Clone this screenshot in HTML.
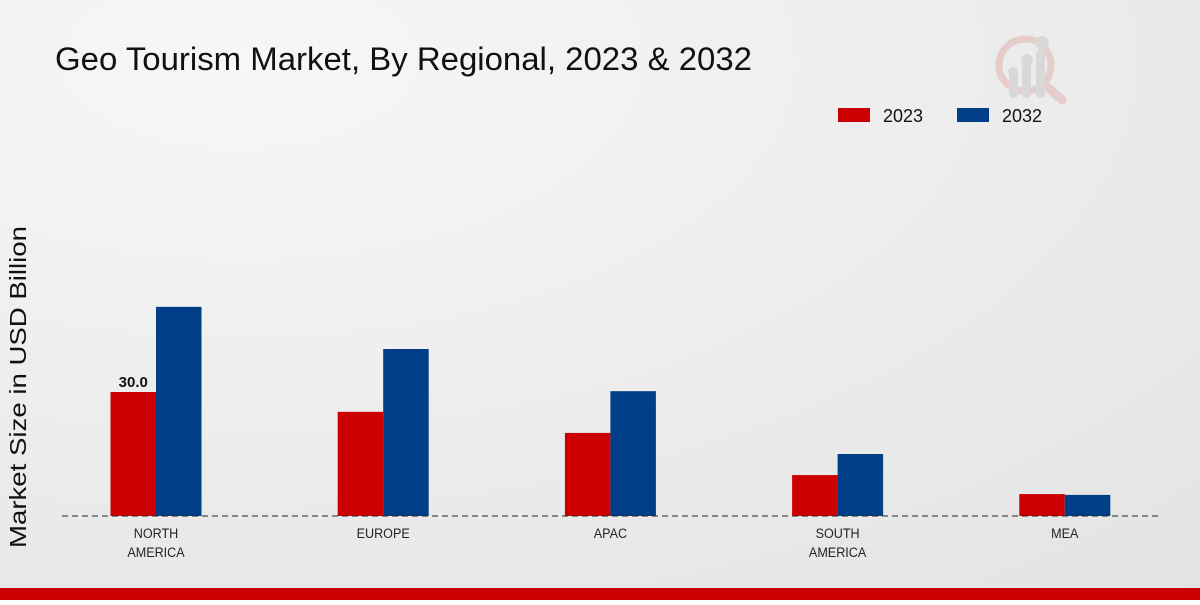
<!DOCTYPE html>
<html><head><meta charset="utf-8"><style>
body{margin:0;width:1200px;height:600px;overflow:hidden;font-family:"Liberation Sans","DejaVu Sans",sans-serif}
</style></head><body>
<svg width="1200" height="600" xmlns="http://www.w3.org/2000/svg">
<defs><radialGradient id="bg" cx="0.2" cy="0.1" r="1.2"><stop offset="0" stop-color="#f7f7f7"/><stop offset="1" stop-color="#e3e3e3"/></radialGradient></defs>
<rect width="1200" height="600" fill="url(#bg)"/>
<rect y="588" width="1200" height="12" fill="#cc0000"/>
<text x="55" y="70" font-size="32" textLength="697" lengthAdjust="spacingAndGlyphs" fill="#111">Geo Tourism Market, By Regional, 2023 &amp; 2032</text>
<g opacity="0.6">
<circle cx="1025" cy="65" r="26" fill="none" stroke="#e4b8b8" stroke-width="7"/>
<line x1="1045" y1="85" x2="1062" y2="100" stroke="#e4b8b8" stroke-width="9" stroke-linecap="round"/>
<rect x="1009" y="70" width="9" height="28" rx="4" fill="#ccc"/><rect x="1022" y="60" width="9" height="38" rx="4" fill="#ccc"/><rect x="1036" y="50" width="9" height="48" rx="4" fill="#ccc"/>
<circle cx="1013" cy="72" r="5" fill="#ccc"/><circle cx="1027" cy="60" r="6" fill="#ccc"/><circle cx="1042" cy="43" r="7" fill="#ccc"/>
</g>
<g>
<rect x="838" y="108" width="32" height="14" fill="#cc0000"/>
<text x="883" y="122" font-size="18" textLength="40" lengthAdjust="spacingAndGlyphs" fill="#111">2023</text>
<rect x="957" y="108" width="32" height="14" fill="#003f87"/>
<text x="1002" y="122" font-size="18" textLength="40" lengthAdjust="spacingAndGlyphs" fill="#111">2032</text>
</g>
<text transform="translate(26,387) rotate(-90)" text-anchor="middle" font-size="23" textLength="322" lengthAdjust="spacingAndGlyphs" fill="#111">Market Size in USD Billion</text>
<g id="plot"></g>
<line x1="62" y1="516" x2="1160" y2="516" stroke="#222" stroke-dasharray="6,4" stroke-width="1"/>
</svg>
<script>
const categories=["NORTH\nAMERICA","EUROPE","APAC","SOUTH\nAMERICA","MEA"];
const values2023=[30.0,25.2,20.1,9.9,5.3];
const values2032=[50.6,40.4,30.2,15.0,5.1];
const labelIndex=0;
const NS="http://www.w3.org/2000/svg";
const g=document.getElementById('plot');
const base=516, scale=124/30;
const y=v=>base-v*scale;
const xc=i=>156+i*227.2;
const bw=45.5;
function mk(t,a){const e=document.createElementNS(NS,t);for(const k in a)e.setAttribute(k,a[k]);g.appendChild(e);return e;}
categories.forEach((c,i)=>{
 const r=mk('rect',{x:xc(i)-bw,y:y(values2023[i]),width:bw,height:base-y(values2023[i]),fill:'#cc0000'});
 
 
 const b=mk('rect',{x:xc(i),y:y(values2032[i]),width:bw,height:base-y(values2032[i]),fill:'#003f87'});
 
 
 c.split('\n').forEach((line,j)=>{
  const t=mk('text',{x:xc(i),y:538+j*19,'text-anchor':'middle','font-size':14,fill:'#222',transform:'translate('+xc(i)+',0) scale(0.9,1) translate('+(-xc(i))+',0)'});
  t.textContent=line;
  
  
 });
});
const lt=mk('text',{x:xc(labelIndex)-bw/2,y:y(values2023[labelIndex])-5,'text-anchor':'middle','font-size':15,'font-weight':'bold',fill:'#111'});
lt.textContent=values2023[labelIndex].toFixed(1);


</script>
</body></html>
